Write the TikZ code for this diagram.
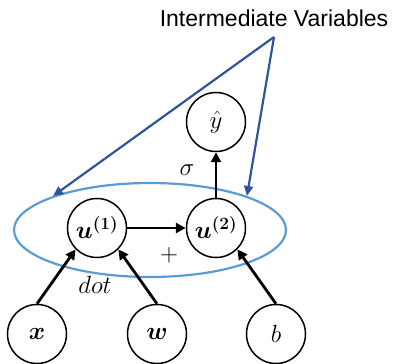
\documentclass[tikz,border=0pt]{standalone}
\usepackage{amsmath,bm}
\usepackage{fontspec}
\newfontfamily\arialfont{Liberation Sans}
\usetikzlibrary{positioning,arrows.meta,shapes.geometric}
\definecolor{grpblue}{HTML}{5B9BD5}
\definecolor{ptrblue}{HTML}{2F5597}

\begin{document}
\begin{tikzpicture}[x=1pt,y=1pt,
    var/.style={circle,draw,line width=1.5pt,minimum size=59,inner sep=0pt,font=\fontsize{25}{28}\selectfont},
    flow/.style={line width=2.8pt,-{Triangle[length=10pt,width=10pt]}},
    ptr/.style={line width=2.2pt,ptrblue,-{Triangle[length=10pt,width=9pt]}},
    lbl/.style={inner sep=0pt,font=\fontsize{24}{28}\selectfont}]
\useasboundingbox (0,0) rectangle (394,364);
\node[inner sep=0pt,font=\arialfont\fontsize{23}{26}\selectfont] (title) at (274,346) {Intermediate Variables};
\coordinate (tip) at (274,327);
\node[var] (yhat) at (216,242) {$\hat{y}$};
\node[var] (u1) at (97,136) {$\bm{u}^{\bm{(1)}}$};
\node[var] (u2) at (216,136) {$\bm{u}^{\bm{(2)}}$};
\node[var] (x) at (37,30) {$\bm{x}$};
\node[var] (w) at (157,30) {$\bm{w}$};
\node[var] (b) at (276,30) {$b$};
\node[ellipse,draw=grpblue,line width=2.2pt,minimum width=272,minimum height=94] (grp) at (150,134) {};
% connectors
\draw[flow] (x.north)--(u1.225);
\draw[flow] (w.north)--(u1.-45);
\draw[flow] (b.north)--(u2.-45);
\draw[flow] (u1)--(u2);
\draw[flow] (u2)--(yhat);
\draw[ptr] (tip)--(grp.north west);
\draw[ptr] (tip)--(grp.north east);
% labels
\node[lbl] (sig) at (187,194) {$\sigma$};
\node[lbl] (plus) at (169,109) {$+$};
\node[lbl] (dot) at (95,79) {$dot$};
\end{tikzpicture}
\end{document}
